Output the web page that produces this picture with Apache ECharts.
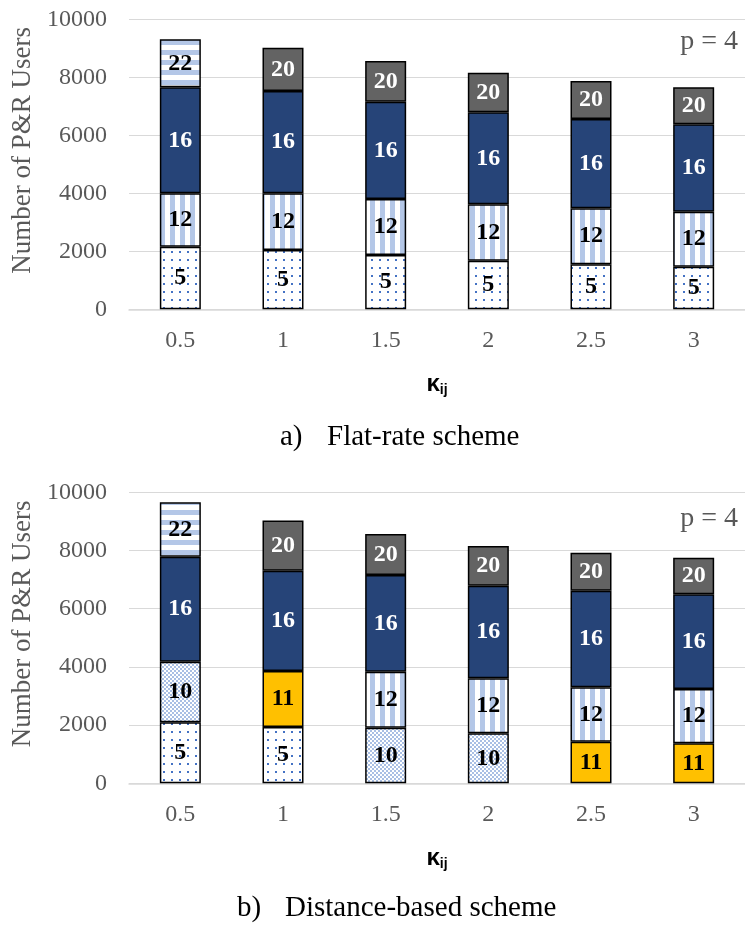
<!DOCTYPE html>
<html>
<head>
<meta charset="utf-8">
<script src="https://cdn.jsdelivr.net/npm/echarts@6/dist/echarts.min.js"></script>
<style>
  html, body { margin: 0; padding: 0; background: #fff; }
  #chart { width: 745px; height: 926px; }
</style>
</head>
<body>
<div id="chart"></div>
<script>
// κij values on the category axis
const kappa = ['0.5', '1', '1.5', '2', '2.5', '3'];
const yTicks = { min: 0, max: 10000, interval: 2000 };

// P&R station ids (stack order, bottom to top)
const stations = ['5', '10', '11', '12', '16', '20', '22'];

// a) Flat-rate scheme: users per station
const flat5  = [2160, 2045, 1872, 1676, 1552, 1469];
const flat10 = [null, null, null, null, null, null];
const flat11 = [null, null, null, null, null, null];
const flat12 = [1840, 1955, 1931, 1944, 1931, 1897];
const flat16 = [3655, 3527, 3355, 3172, 3079, 3013];
const flat20 = [null, 1493, 1403, 1366, 1310, 1276];
const flat22 = [1655, null, null, null, null, null];

// b) Distance-based scheme: users per station
const dist5  = [2096, 1935, null, null, null, null];
const dist10 = [2082, null, 1911, 1718, null, null];
const dist11 = [null, 1924, null, null, 1429, 1374];
const dist12 = [null, null, 1924, 1890, 1870, 1866];
const dist16 = [3608, 3446, 3322, 3181, 3319, 3254];
const dist20 = [null, 1730, 1409, 1364, 1305, 1257];
const dist22 = [1869, null, null, null, null, null];

const flatData = [flat5, flat10, flat11, flat12, flat16, flat20, flat22];
const distData = [dist5, dist10, dist11, dist12, dist16, dist20, dist22];

// ---- fill patterns ----
function tile(w, h, draw) {
  const c = document.createElement('canvas');
  c.width = w; c.height = h;
  const g = c.getContext('2d');
  g.fillStyle = '#ffffff';
  g.fillRect(0, 0, w, h);
  draw(g);
  return { image: c, repeat: 'repeat' };
}
const lightBlue = '#b4c7e7';
const dots = tile(8, 8, g => { g.fillStyle = '#4472c4'; g.fillRect(3, 3, 2, 2); });
const checker = tile(4, 4, g => {
  g.fillStyle = '#a9bfe4';
  g.fillRect(0, 0, 2, 2);
  g.fillRect(2, 2, 2, 2);
});
const vStripes = tile(10, 10, g => { g.fillStyle = lightBlue; g.fillRect(0, 0, 5, 10); });
const hStripes = tile(10, 10, g => { g.fillStyle = lightBlue; g.fillRect(0, 0, 10, 5); });

const fills = {
  '5': dots, '10': checker, '11': '#ffc000', '12': vStripes,
  '16': '#264478', '20': '#636363', '22': hStripes
};
const labelColors = {
  '5': '#000', '10': '#000', '11': '#000', '12': '#000',
  '16': '#fff', '20': '#fff', '22': '#000'
};

const serif = '"Times New Roman", "Liberation Serif", serif';
const grey = '#595959';

function xAxis(gridIndex) {
  return {
    type: 'category', gridIndex, data: kappa,
    axisLine: { lineStyle: { color: '#d9d9d9', width: 1.5 } },
    axisTick: { show: false },
    axisLabel: { fontFamily: serif, fontSize: 24, color: grey, margin: 19 },
    name: '{k|κ}{s|ij}',
    nameLocation: 'middle',
    nameGap: 62,
    nameTextStyle: {
      rich: {
        k: { fontFamily: '"Liberation Sans", Arial, sans-serif', fontWeight: 'bold', fontSize: 24, color: '#000' },
        s: { fontFamily: '"Liberation Sans", Arial, sans-serif', fontWeight: 'bold', fontSize: 14, color: '#000', padding: [12, 0, 0, 0] }
      }
    }
  };
}
function yAxis(gridIndex) {
  return {
    type: 'value', gridIndex,
    min: yTicks.min, max: yTicks.max, interval: yTicks.interval,
    axisLine: { show: false },
    axisTick: { show: false },
    splitLine: { lineStyle: { color: '#d9d9d9', width: 1.2 } },
    axisLabel: { fontFamily: serif, fontSize: 24, color: grey, margin: 22, formatter: v => String(v) },
    name: 'Number of P&R Users',
    nameLocation: 'middle',
    nameGap: 93,
    nameTextStyle: { fontFamily: serif, fontSize: 27, color: grey, padding: [0, 0, 0, 28] }
  };
}

function buildSeries(dataSets, axisIndex) {
  return stations.map((id, i) => ({
    type: 'bar',
    name: id,
    stack: 'users' + axisIndex,
    xAxisIndex: axisIndex,
    yAxisIndex: axisIndex,
    data: dataSets[i],
    barWidth: 41,
    itemStyle: { color: fills[id], borderColor: '#000', borderWidth: 1.5 },
    label: {
      show: true, position: 'inside',
      formatter: id,
      fontFamily: serif, fontWeight: 'bold', fontSize: 24,
      color: labelColors[id]
    },
    emphasis: { disabled: true }
  }));
}

const chart = echarts.init(document.getElementById('chart'), null, { renderer: 'canvas' });
chart.setOption({
  animation: false,
  backgroundColor: '#fff',
  grid: [
    { left: 129, width: 617, top: 19.3, height: 290 },
    { left: 129, width: 617, top: 492.3, height: 291 }
  ],
  xAxis: [xAxis(0), xAxis(1)],
  yAxis: [yAxis(0), yAxis(1)],
  series: buildSeries(flatData, 0).concat(buildSeries(distData, 1)),
  graphic: [
    { type: 'text', x: 738, y: 42, style: { text: 'p = 4', font: '28px ' + serif, fill: grey, align: 'right', verticalAlign: 'middle' } },
    { type: 'text', x: 738, y: 519, style: { text: 'p = 4', font: '28px ' + serif, fill: grey, align: 'right', verticalAlign: 'middle' } },
    { type: 'text', x: 280, y: 437, style: { text: 'a)', font: '29px ' + serif, fill: '#000', verticalAlign: 'middle' } },
    { type: 'text', x: 327, y: 437, style: { text: 'Flat-rate scheme', font: '29px ' + serif, fill: '#000', verticalAlign: 'middle' } },
    { type: 'text', x: 237, y: 908, style: { text: 'b)', font: '29px ' + serif, fill: '#000', verticalAlign: 'middle' } },
    { type: 'text', x: 285, y: 908, style: { text: 'Distance-based scheme', font: '29px ' + serif, fill: '#000', verticalAlign: 'middle' } }
  ]
});
</script>
</body>
</html>
